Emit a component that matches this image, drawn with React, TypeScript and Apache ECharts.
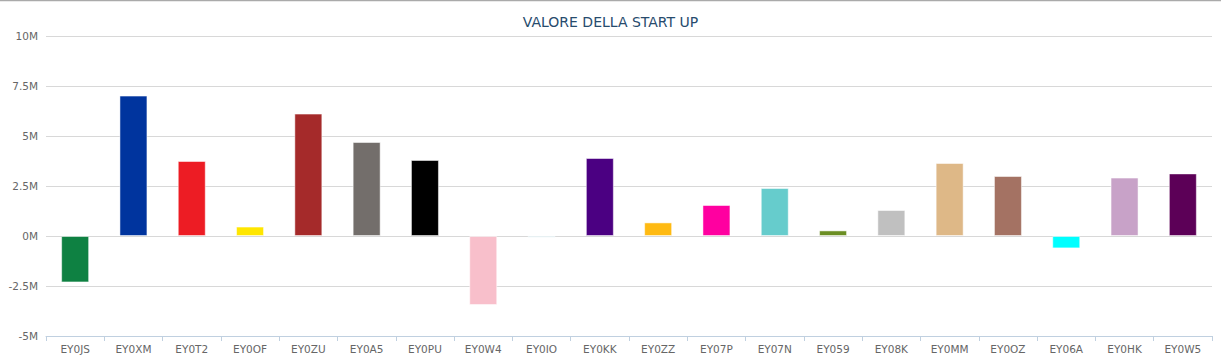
import React, { useEffect, useRef } from "react";
import * as echarts from "echarts";

const categories = ["EY0JS","EY0XM","EY0T2","EY0OF","EY0ZU","EY0A5","EY0PU","EY0W4","EY0IO","EY0KK","EY0ZZ","EY07P","EY07N","EY059","EY08K","EY0MM","EY0OZ","EY06A","EY0HK","EY0W5"];
const values = [-2.32,7.02,3.75,0.47,6.12,4.7,3.8,-3.45,-0.08,3.9,0.68,1.55,2.4,0.28,1.3,3.65,3.0,-0.62,2.92,3.13].map(v => v * 1e6);
const colors = ["#0E8142","#00349E","#ED1C24","#FFE600","#A52A2A","#736E6B","#000000","#F8BFCB","#ADD8E6","#4B0082","#FFBA12","#FF00A0","#66CCCC","#6B8E23","#C0C0C0","#DEB887","#A47263","#00FFFF","#C8A2C8","#5C0057"];
const title = "VALORE DELLA START UP";

export default function App() {
  const ref = useRef<HTMLDivElement>(null);
  useEffect(() => {
    const chart = echarts.init(ref.current!, null, { renderer: "svg" });
    chart.setOption({
      animation: false,
      title: {
        text: title,
        left: "center",
        top: 10,
        textStyle: { color: "#274B6D", fontSize: 14, fontWeight: "normal", fontFamily: "DejaVu Sans" }
      },
      graphic: [
        { type: "line", shape: { x1: 0, y1: 0.5, x2: 1221, y2: 0.5 }, style: { stroke: "#AAAAAA", lineWidth: 1.5 } }
      ],
      grid: { left: 46, right: 9, top: 36, bottom: 25, containLabel: false },
      xAxis: {
        type: "category",
        data: categories,
        axisLine: { lineStyle: { color: "#C0D0E0" }, onZero: false },
        axisTick: { show: true, lineStyle: { color: "#C0D0E0" }, length: 5 },
        axisLabel: { color: "#666666", fontSize: 10.5, fontFamily: "DejaVu Sans", margin: 7 }
      },
      yAxis: {
        type: "value",
        min: -5e6,
        max: 10e6,
        interval: 2.5e6,
        axisLine: { show: false },
        axisTick: { show: false },
        splitLine: { lineStyle: { color: "#D8D8D8" } },
        axisLabel: {
          color: "#666666",
          fontSize: 10.5,
          fontFamily: "DejaVu Sans",
          margin: 8,
          formatter: (v: number) => (v / 1e6) + "M"
        }
      },
      series: [
        {
          type: "bar",
          barWidth: 28,
          data: values.map((v, i) => ({ value: v, itemStyle: { color: colors[i], borderColor: "rgba(255,255,255,0.5)", borderWidth: 1 } }))
        }
      ]
    });
    return () => chart.dispose();
  }, []);
  return <div ref={ref} style={{ position: "absolute", left: 0, top: 0, width: 1221, height: 361 }} />;
}
